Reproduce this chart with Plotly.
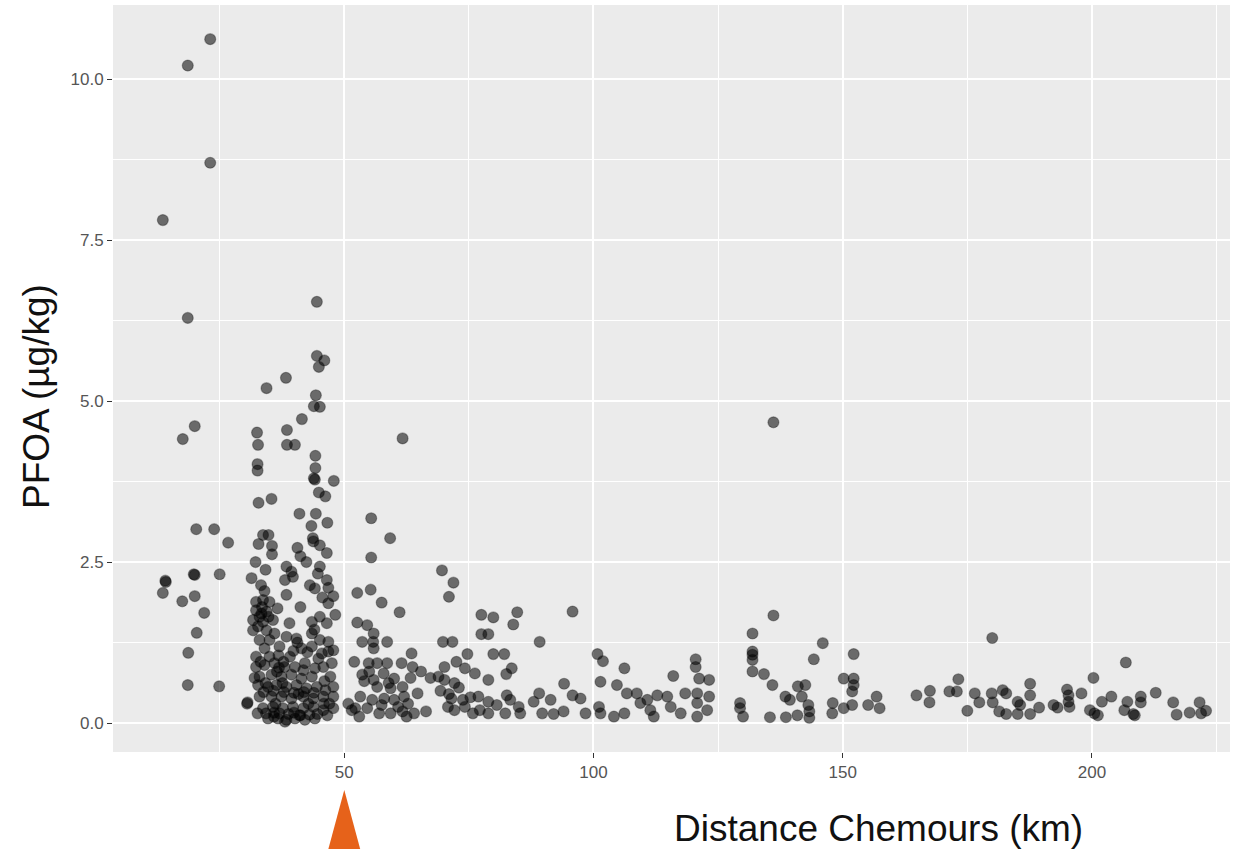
import plotly.graph_objects as go

# ---- data ----
# distance to Chemours (km) and PFOA (ug/kg), grouped by area of the plot
x_far_left = [23.1, 18.6, 23.1, 13.6, 18.6, 17.6, 20.0, 20.3, 23.9, 26.7, 14.1, 14.2, 13.6, 19.8, 20.0, 25.0,
              17.5, 20.0, 21.9, 20.4, 18.7, 18.6, 24.9, 30.5]
y_far_left = [10.62, 10.21, 8.70, 7.81, 6.29, 4.41, 4.61, 3.01, 3.01, 2.80, 2.21, 2.19, 2.02, 2.31, 2.30, 2.31,
              1.89, 1.97, 1.71, 1.40, 1.09, 0.59, 0.57, 0.30]

x_upper = [44.5, 44.5, 46.0, 44.9, 38.3, 34.4, 44.3, 43.9, 45.1, 41.5, 32.5, 38.5, 32.7, 38.5, 40.1, 44.2,
           44.2, 43.9, 44.1, 32.6, 32.6, 47.9, 44.9, 46.2, 32.8, 35.4, 41.0, 44.3, 46.6, 43.4, 33.7, 34.8,
           43.7, 61.7, 55.4]
y_upper = [6.54, 5.70, 5.63, 5.53, 5.36, 5.20, 5.09, 4.92, 4.91, 4.72, 4.51, 4.55, 4.32, 4.32, 4.32, 4.15,
           3.96, 3.80, 3.78, 4.02, 3.92, 3.76, 3.58, 3.52, 3.42, 3.48, 3.25, 3.25, 3.11, 3.06, 2.92, 2.92,
           2.87, 4.42, 3.18]

x_cluster = [32.8, 35.5, 35.5, 43.8, 45.1, 46.5, 40.6, 41.2, 32.2, 34.2, 38.4, 39.4, 42.4, 45.1,
             31.4, 33.3, 38.1, 39.7, 43.1, 44.1, 46.5, 46.8, 47.8, 38.4, 41.2, 46.8,
             32.3, 33.7, 35.0, 32.3, 34.4, 48.2, 45.1, 43.5, 46.5, 31.7, 33.7, 35.7,
             31.7, 32.7, 34.4, 36.0, 38.4, 40.4, 43.5, 45.1, 46.8, 33.0, 35.0,
             34.0, 37.0, 41.4, 43.5, 47.8, 32.3, 35.0, 39.1, 45.5, 46.8,
             32.3, 34.0, 36.0, 38.0, 40.1, 42.1, 44.1, 45.8, 47.5,
             33.0, 35.4, 37.4, 39.4, 41.4, 43.5, 47.2,
             32.7, 34.7, 36.4, 38.4, 40.4, 42.4, 44.5, 46.2, 47.8,
             30.6, 33.0, 35.4, 37.4, 39.4, 41.8, 43.8, 45.8, 47.8,
             33.7, 35.7, 37.7, 39.7, 41.8, 43.8, 45.8, 47.8,
             34.7, 36.7, 38.4, 40.1, 42.1, 44.1, 37.0, 38.8, 39.9, 38.1,
             33.5, 34.8, 33.2, 36.5, 40.8, 42.8, 36.2, 44.8, 46.0, 34.2, 33.4, 35.9, 41.0, 44.6,
             32.0, 36.8, 37.8, 39.8, 42.6, 44.0, 41.8, 33.8, 35.8, 37.9, 39.9, 41.9, 43.9, 45.9, 47.0,
             32.6, 34.3, 35.9, 41.2, 43.0, 46.6, 34.0, 36.6, 33.0, 45.6, 44.7, 39.0, 37.6, 36.9, 40.6]
y_cluster = [2.78, 2.75, 2.62, 2.82, 2.76, 2.64, 2.72, 2.59, 2.50, 2.38, 2.43, 2.35, 2.50, 2.43,
             2.25, 2.14, 2.22, 2.27, 2.14, 2.09, 2.22, 2.10, 1.97, 1.99, 1.80, 1.86,
             1.88, 1.91, 1.88, 1.75, 1.73, 1.68, 1.65, 1.57, 1.55, 1.60, 1.57, 1.60,
             1.44, 1.50, 1.44, 1.39, 1.34, 1.31, 1.39, 1.29, 1.26, 1.29, 1.29,
             1.16, 1.19, 1.16, 1.19, 1.13, 1.03, 1.03, 1.03, 1.08, 1.11,
             0.87, 0.90, 0.93, 0.87, 0.87, 0.93, 0.85, 0.87, 0.93,
             0.72, 0.75, 0.72, 0.75, 0.69, 0.72, 0.72,
             0.59, 0.56, 0.59, 0.56, 0.59, 0.54, 0.56, 0.51, 0.56,
             0.32, 0.41, 0.41, 0.41, 0.38, 0.41, 0.38, 0.41, 0.41,
             0.23, 0.25, 0.23, 0.25, 0.23, 0.25, 0.20, 0.23,
             0.07, 0.07, 0.05, 0.07, 0.05, 0.07, 0.15, 0.14, 0.16, 0.02,
             1.80, 1.65, 0.95, 0.80, 0.45, 0.30, 0.30, 1.00, 0.65, 0.62, 1.70, 0.10, 0.12, 0.14,
             0.70, 1.05, 0.95, 1.12, 1.10, 1.45, 0.82, 0.48, 0.50, 0.48, 0.47, 0.48, 0.47, 0.30, 0.30,
             0.15, 0.15, 0.16, 0.12, 0.13, 0.12, 2.05, 1.78, 1.65, 1.95, 2.32, 1.55, 0.62, 0.86, 1.25]

x_mid = [59.2, 55.4, 69.6, 71.9, 71.0, 52.6, 55.3, 57.5, 61.1, 77.5, 79.9, 52.6, 54.6, 55.9, 53.6, 55.8,
         58.6, 55.9, 77.5, 78.9, 69.8, 71.7, 63.5, 74.7, 79.9,
         54.9, 56.6, 58.6, 61.5, 63.7, 65.4, 67.3,
         53.6, 55.9, 57.9, 60.0, 70.1, 72.5, 74.2, 76.2, 78.9, 70.1, 72.1,
         56.6, 59.3, 61.7, 64.7,
         53.2, 55.6, 58.0, 60.0, 62.0, 71.5, 73.8, 76.9, 78.9,
         52.2, 54.6, 57.0, 59.3, 61.7, 64.0, 66.4, 72.1, 74.2, 77.2, 78.9,
         53.0, 62.5, 60.8, 57.5,
         50.8, 51.5, 55.0, 58.9, 62.8, 63.3, 69.3, 71.0, 73.0, 75.3, 70.8, 75.8, 68.9, 52.0, 54.0]
y_mid = [2.87, 2.57, 2.37, 2.18, 1.96, 2.02, 2.07, 1.87, 1.72, 1.68, 1.64, 1.56, 1.52, 1.39, 1.26, 1.26,
         1.26, 1.16, 1.38, 1.38, 1.26, 1.26, 1.08, 1.07, 1.07,
         0.93, 0.93, 0.93, 0.93, 0.87, 0.80, 0.70,
         0.75, 0.67, 0.77, 0.69, 0.87, 0.95, 0.85, 0.77, 0.67, 0.67, 0.62,
         0.56, 0.54, 0.56, 0.46,
         0.41, 0.36, 0.38, 0.36, 0.41, 0.38, 0.36, 0.41, 0.33,
         0.23, 0.23, 0.15, 0.15, 0.18, 0.15, 0.18, 0.20, 0.25, 0.20, 0.15,
         0.10, 0.10, 0.25, 0.28,
         0.30, 0.20, 0.80, 0.62, 0.30, 0.70, 0.50, 0.45, 0.55, 0.40, 0.25, 0.15, 0.72, 0.95, 0.65]

x_center = [84.7, 83.9, 95.8, 89.2, 82.1, 83.6, 82.5, 100.8, 101.9, 106.2, 116.0, 120.5, 120.5, 121.2, 123.2,
            101.4, 104.7, 94.1,
            82.6, 83.3, 85.0, 89.1, 88.0, 91.4, 95.8, 97.4,
            80.6, 82.3, 85.3, 89.7, 92.0, 94.0, 98.4, 101.1, 101.4, 104.1, 106.2,
            106.7, 108.7, 110.8, 112.8, 114.8, 109.4, 111.4, 112.1, 115.5, 117.5,
            118.4, 120.8, 123.2, 120.8, 122.8, 120.8]
y_center = [1.72, 1.53, 1.73, 1.26, 1.07, 0.85, 0.76, 1.07, 0.96, 0.85, 0.73, 0.99, 0.87, 0.69, 0.67,
            0.64, 0.59, 0.61,
            0.43, 0.36, 0.25, 0.46, 0.33, 0.36, 0.43, 0.38,
            0.28, 0.15, 0.15, 0.15, 0.14, 0.18, 0.15, 0.25, 0.15, 0.10, 0.15,
            0.46, 0.46, 0.36, 0.43, 0.41, 0.31, 0.20, 0.10, 0.25, 0.15,
            0.46, 0.46, 0.41, 0.31, 0.20, 0.10]

x_far = [136.1, 136.1, 131.9, 131.9, 131.9, 131.9, 146.0, 144.2, 152.2, 131.9, 134.2, 135.9, 141.0, 142.5,
         138.5, 139.4, 141.8,
         129.4, 129.4, 130.0, 135.4, 138.6, 140.9, 143.3, 143.3, 143.1, 148.0, 147.9, 150.2, 151.9,
         150.2, 152.2, 152.2, 151.9, 155.1, 156.8, 157.4,
         164.8, 167.4, 167.5, 171.4, 173.2, 172.9, 175.0, 176.5, 177.4, 179.9, 180.1, 180.0,
         182.1, 182.8, 181.4, 182.8, 185.1, 185.1, 185.6, 187.6, 187.6, 187.6, 189.4, 192.3, 193.1,
         195.0, 195.3, 195.3, 195.5, 197.9, 199.6, 200.5, 201.2, 200.3, 202.0, 203.9, 206.8,
         206.5, 207.1, 208.3, 208.6, 209.8, 209.8, 212.8, 216.3, 217.0, 219.6, 221.6, 221.9, 222.9]
y_far = [4.67, 1.67, 1.39, 1.11, 1.06, 0.98, 1.24, 0.99, 1.07, 0.80, 0.76, 0.59, 0.57, 0.59,
         0.41, 0.36, 0.41,
         0.31, 0.23, 0.10, 0.09, 0.09, 0.12, 0.18, 0.08, 0.28, 0.31, 0.15, 0.23, 0.28,
         0.69, 0.69, 0.59, 0.49, 0.28, 0.41, 0.23,
         0.43, 0.32, 0.50, 0.49, 0.68, 0.49, 0.19, 0.46, 0.32, 0.46, 0.32, 1.32,
         0.51, 0.46, 0.18, 0.14, 0.14, 0.33, 0.28, 0.61, 0.43, 0.14, 0.24, 0.28, 0.24,
         0.52, 0.43, 0.33, 0.25, 0.46, 0.20, 0.15, 0.12, 0.70, 0.33, 0.41, 0.94,
         0.20, 0.33, 0.14, 0.12, 0.41, 0.32, 0.47, 0.32, 0.13, 0.16, 0.32, 0.15, 0.19]

distance_km = x_far_left + x_upper + x_cluster + x_mid + x_center + x_far
pfoa = y_far_left + y_upper + y_cluster + y_mid + y_center + y_far

x_ticks = [50, 100, 150, 200]
y_ticks = [0.0, 2.5, 5.0, 7.5, 10.0]
y_tick_labels = ["0.0", "2.5", "5.0", "7.5", "10.0"]
marker_km = 50  # orange arrow position

W, H = 1242, 849
fig = go.Figure()
fig.add_trace(go.Scatter(
    x=distance_km, y=pfoa, mode="markers",
    marker=dict(size=11, color="rgba(0,0,0,0.55)",
                line=dict(color="rgba(0,0,0,0.3)", width=1.2)),
    hoverinfo="x+y", showlegend=False,
))

FONT = "Liberation Sans, Arial, sans-serif"
tickfont = dict(family=FONT, size=17, color="#555555")
fig.update_layout(
    width=W, height=H,
    margin=dict(l=113, r=12, t=5, b=97, autoexpand=False),
    paper_bgcolor="white", plot_bgcolor="#EBEBEB",
    xaxis=dict(range=[3.6, 227.7], tickvals=x_ticks, ticktext=[str(v) for v in x_ticks],
               showgrid=True, gridcolor="white", gridwidth=2, zeroline=False, automargin=False,
               ticks="outside", ticklen=5, tickwidth=1.2, tickcolor="#333333",
               tickfont=tickfont, showline=False,
               minor=dict(tick0=25, dtick=50, showgrid=True, gridcolor="white", gridwidth=1, ticks="")),
    yaxis=dict(range=[-0.45, 11.15], tickvals=y_ticks, ticktext=y_tick_labels,
               showgrid=True, gridcolor="white", gridwidth=2, zeroline=False, automargin=False,
               ticks="outside", ticklen=5, tickwidth=1.2, tickcolor="#333333",
               tickfont=tickfont, showline=False,
               minor=dict(tick0=1.25, dtick=2.5, showgrid=True, gridcolor="white", gridwidth=1, ticks="")),
    annotations=[
        dict(text="PFOA (µg/kg)", xref="paper", yref="paper",
             x=-(113 - 36) / (W - 125), y=(752 - 397) / 747, textangle=-90,
             showarrow=False, xanchor="center", yanchor="middle",
             font=dict(family=FONT, size=37, color="#111111")),
        dict(text="Distance Chemours (km)", xref="paper", yref="paper",
             x=(878 - 113) / (W - 125), y=-(828 - 752) / 747,
             showarrow=False, xanchor="center", yanchor="middle",
             font=dict(family=FONT, size=37, color="#111111")),
    ],
    shapes=[
        dict(type="path", xref="x", yref="paper",
             path=f"M {marker_km - 3.4},-0.135 L {marker_km},-0.051 L {marker_km + 3.4},-0.135 Z",
             fillcolor="#E6621A", line=dict(width=0)),
    ],
)

fig.write_html("out.html", config={"displayModeBar": False},
               post_script="document.body.style.margin='0px';document.body.style.padding='0px';")
